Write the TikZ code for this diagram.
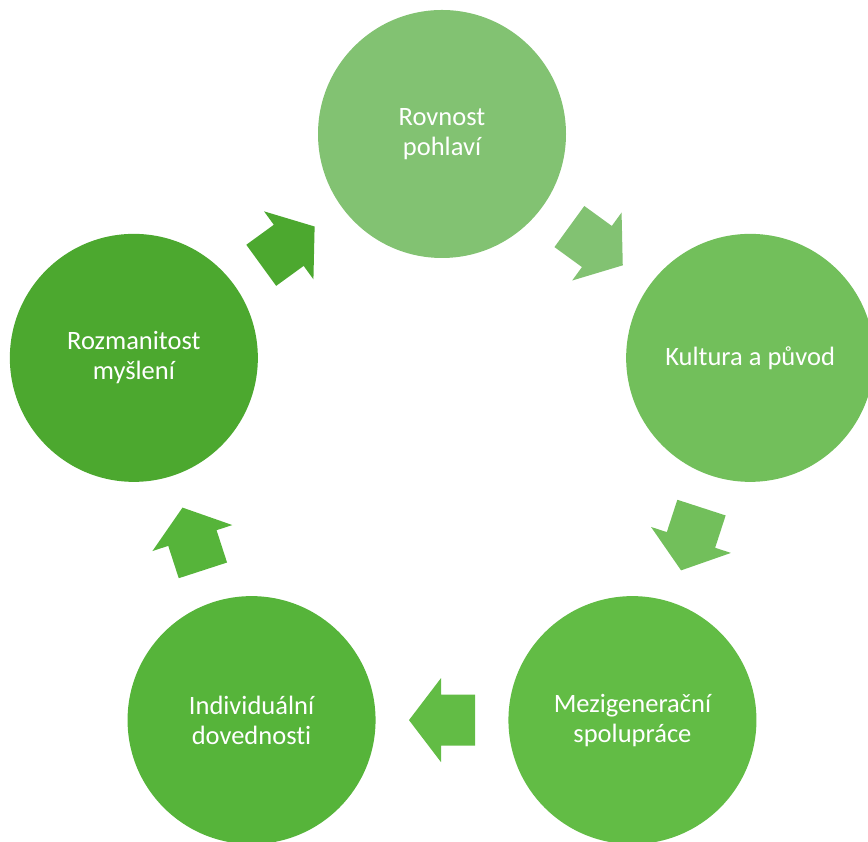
\documentclass[tikz,border=0pt]{standalone}
\usepackage{fontspec}
\setmainfont{Carlito}[Ligatures=NoCommon]
\usetikzlibrary{calc}
\definecolor{cA}{HTML}{82C272}
\definecolor{cB}{HTML}{72BF5B}
\definecolor{cC}{HTML}{62BC45}
\definecolor{cD}{HTML}{56B43A}
\definecolor{cE}{HTML}{4CA82F}
\tikzset{
  stage/.style={circle, minimum size=248pt, inner sep=0pt, text=white,
    align=center, font=\fontsize{26.5}{30}\selectfont},
}
\newcommand{\blockarrow}[3]{%
  \begin{scope}[shift={(#1)}, rotate=#2]
    \fill[#3] (-33,-25.4) -- (1,-25.4) -- (1,-42) -- (33,0) -- (1,42) -- (1,25.4) -- (-33,25.4) -- cycle;
  \end{scope}}
\begin{document}
\begin{tikzpicture}[x=1pt,y=1pt]
\useasboundingbox (0,0) rectangle (868,842);
\clip (0,0) rectangle (868,842);
\coordinate (ctr) at (442,384);
\node[stage, fill=cA] (t)  at ($(ctr)+(90:324)$)   {Rovnost\\pohlaví};
\node[stage, fill=cB] (r)  at ($(ctr)+(18:324)$)   {Kultura a původ};
\node[stage, fill=cC] (br) at ($(ctr)+(-54:324)$)  {Mezigenerační\\spolupráce};
\node[stage, fill=cD] (bl) at ($(ctr)+(-126:324)$) {Individuální\\dovednosti};
\node[stage, fill=cE] (l)  at ($(ctr)+(162:324)$)  {Rozmanitost\\myšlení};
\coordinate (m1) at ($(t)!0.5!(r)$);
\coordinate (m2) at ($(r)!0.5!(br)$);
\coordinate (m3) at ($(br)!0.5!(bl)$);
\coordinate (m4) at ($(bl)!0.5!(l)$);
\coordinate (m5) at ($(l)!0.5!(t)$);
\blockarrow{m1}{-36}{cA}
\blockarrow{m2}{-108}{cB}
\blockarrow{m3}{180}{cC}
\blockarrow{m4}{108}{cD}
\blockarrow{m5}{36}{cE}
\end{tikzpicture}
\end{document}
